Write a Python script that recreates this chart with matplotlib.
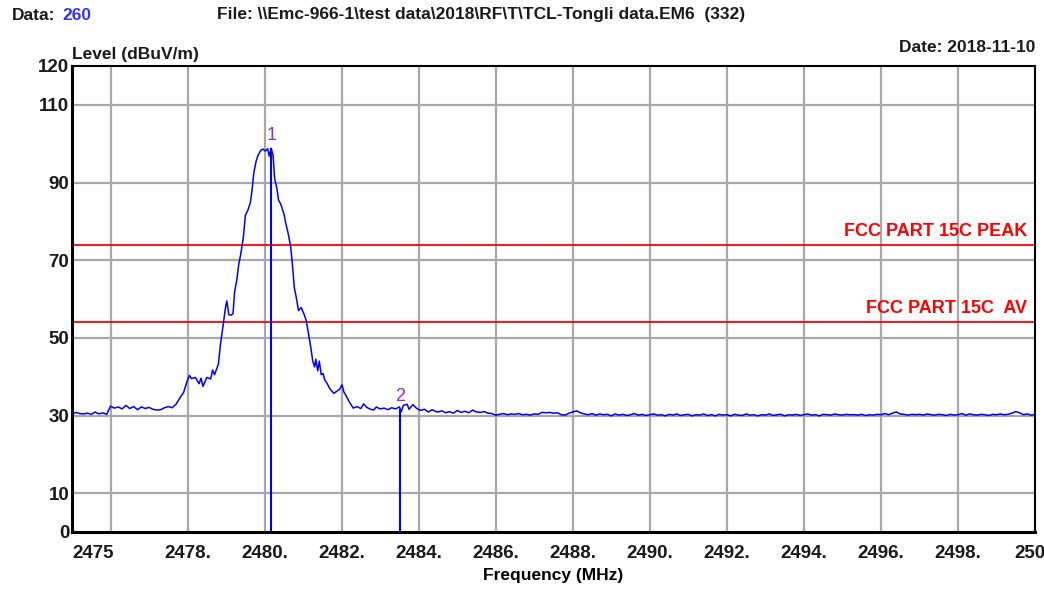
import matplotlib
matplotlib.use('Agg')
import matplotlib.pyplot as plt

plt.rcParams['font.family'] = ['Liberation Sans', 'DejaVu Sans']

# sweep trace
freq_mhz = [
    2475.0, 2475.1, 2475.2, 2475.3, 2475.4, 2475.5, 2475.6, 2475.7, 2475.8, 2475.9,
    2476.0, 2476.1, 2476.2, 2476.3, 2476.4, 2476.5, 2476.6, 2476.7, 2476.8, 2476.9,
    2477.0, 2477.1, 2477.2, 2477.3, 2477.4, 2477.5, 2477.6, 2477.7, 2477.8, 2477.9,
    2478.0, 2478.05, 2478.1, 2478.2, 2478.3, 2478.35, 2478.4, 2478.5, 2478.6, 2478.65,
    2478.7, 2478.8, 2478.85, 2478.93, 2478.98, 2479.02, 2479.07, 2479.12, 2479.18, 2479.22,
    2479.28, 2479.33, 2479.38, 2479.45, 2479.5, 2479.57, 2479.63, 2479.68, 2479.72, 2479.78,
    2479.83, 2479.9, 2479.96, 2480.02, 2480.08, 2480.12, 2480.17, 2480.22, 2480.26, 2480.32,
    2480.36, 2480.42, 2480.5, 2480.55, 2480.62, 2480.68, 2480.73, 2480.77, 2480.82, 2480.88,
    2480.95, 2481.02, 2481.08, 2481.14, 2481.2, 2481.25, 2481.3, 2481.33, 2481.38, 2481.42,
    2481.47, 2481.52, 2481.56, 2481.62, 2481.7, 2481.8, 2481.88, 2481.95, 2482.01, 2482.06,
    2482.12, 2482.2, 2482.3, 2482.4, 2482.5, 2482.57, 2482.65, 2482.75, 2482.83, 2482.9,
    2483.0, 2483.1, 2483.2, 2483.3, 2483.4, 2483.5, 2483.55, 2483.6, 2483.7, 2483.75,
    2483.85, 2483.95, 2484.05, 2484.15, 2484.25, 2484.35, 2484.45,
    2484.5, 2484.6, 2484.7, 2484.8, 2484.9, 2485.0, 2485.1, 2485.2, 2485.3, 2485.4,
    2485.5, 2485.6, 2485.7, 2485.8, 2485.9, 2486.0, 2486.1, 2486.2, 2486.3, 2486.4,
    2486.5, 2486.6, 2486.7, 2486.8, 2486.9, 2487.0, 2487.1, 2487.2, 2487.3, 2487.4,
    2487.5, 2487.6, 2487.7, 2487.8, 2487.9, 2488.0, 2488.1, 2488.2, 2488.3, 2488.4,
    2488.5, 2488.6, 2488.7, 2488.8, 2488.9, 2489.0, 2489.1, 2489.2, 2489.3, 2489.4,
    2489.5, 2489.6, 2489.7, 2489.8, 2489.9, 2490.0, 2490.1, 2490.2, 2490.3, 2490.4,
    2490.5, 2490.6, 2490.7, 2490.8, 2490.9, 2491.0, 2491.1, 2491.2, 2491.3, 2491.4,
    2491.5, 2491.6, 2491.7, 2491.8, 2491.9, 2492.0, 2492.1, 2492.2, 2492.3, 2492.4,
    2492.5, 2492.6, 2492.7, 2492.8, 2492.9, 2493.0, 2493.1, 2493.2, 2493.3, 2493.4,
    2493.5, 2493.6, 2493.7, 2493.8, 2493.9, 2494.0, 2494.1, 2494.2, 2494.3, 2494.4,
    2494.5, 2494.6, 2494.7, 2494.8, 2494.9, 2495.0, 2495.1, 2495.2, 2495.3, 2495.4,
    2495.5, 2495.6, 2495.7, 2495.8, 2495.9, 2496.0, 2496.1, 2496.2, 2496.3, 2496.4,
    2496.5, 2496.6, 2496.7, 2496.8, 2496.9, 2497.0, 2497.1, 2497.2, 2497.3, 2497.4,
    2497.5, 2497.6, 2497.7, 2497.8, 2497.9, 2498.0, 2498.1, 2498.2, 2498.3, 2498.4,
    2498.5, 2498.6, 2498.7, 2498.8, 2498.9, 2499.0, 2499.1, 2499.2, 2499.3, 2499.4,
    2499.5, 2499.6, 2499.7, 2499.8, 2499.9, 2500.0,
]
level_dbuv = [
    30.3, 30.8, 30.5, 30.4, 30.6, 30.3, 30.9, 30.4, 30.7, 30.3,
    32.4, 31.9, 32.2, 31.7, 32.6, 31.8, 32.3, 31.5, 32.2, 31.8,
    32.1, 31.6, 31.4, 31.5, 32.0, 32.3, 32.0, 32.9, 34.5, 36.0,
    39.2, 40.3, 39.5, 39.8, 38.2, 39.6, 37.5, 39.8, 39.4, 41.7,
    40.5, 43.2, 48.0, 53.7, 57.5, 59.5, 56.0, 55.8, 56.2, 61.8,
    65.0, 69.0, 71.5, 76.0, 81.5, 83.0, 84.8, 88.5, 92.5, 95.5,
    97.0, 98.3, 98.6, 98.1, 98.7, 96.8, 98.8, 97.0, 91.0, 88.5,
    85.5, 84.4, 82.0, 79.5, 76.5, 73.2, 68.0, 63.0, 60.5, 57.0,
    57.8, 56.2, 54.5, 51.0, 47.5, 44.0, 42.5, 44.5, 41.5, 44.0,
    40.5, 40.8, 39.2, 38.3, 36.8, 35.7, 36.3, 36.8, 37.9, 36.0,
    35.0, 33.5, 31.9, 32.3, 31.8, 33.0, 32.1, 31.6, 31.4, 32.2,
    31.7, 31.9, 31.5, 32.0, 31.7, 32.2, 31.0, 32.6, 32.9, 31.6,
    32.8, 31.8, 31.3, 31.6, 30.9, 31.5, 31.0,
    30.9, 31.2, 30.7, 31.0, 30.6, 31.3, 30.8, 31.1, 30.7, 31.4,
    30.9, 30.8, 31.0, 30.6, 30.5, 30.1, 30.3, 30.5, 30.2, 30.4,
    30.3, 30.5, 30.2, 30.3, 30.1, 30.4, 30.3, 30.8, 30.7, 30.8,
    30.6, 30.7, 30.2, 30.1, 30.6, 30.9, 31.2, 30.7, 30.4, 30.2,
    30.5, 30.1, 30.4, 30.2, 30.3, 29.9, 30.4, 30.1, 30.3, 30.0,
    30.2, 30.5, 30.1, 30.3, 30.0, 30.2, 30.4, 30.1, 30.2, 29.9,
    30.3, 30.1, 30.4, 30.0, 30.2, 30.3, 29.9, 30.2, 30.1, 30.4,
    30.0, 30.2, 29.9, 30.3, 30.1, 30.2, 29.9, 30.3, 30.1, 30.0,
    30.4, 30.1, 30.2, 29.9, 30.2, 30.1, 30.4, 30.0, 30.2, 30.3,
    29.9, 30.2, 30.1, 30.3, 30.0, 30.2, 30.4, 30.1, 30.2, 29.9,
    30.3, 30.2, 30.1, 30.4, 30.2, 30.1, 30.3, 30.2, 30.2, 30.1,
    30.3, 30.0, 30.2, 30.1, 30.3, 30.2, 30.5, 30.2, 30.6, 30.9,
    30.4, 30.3, 30.1, 30.3, 30.2, 30.3, 30.1, 30.4, 30.2, 30.1,
    30.3, 30.2, 30.0, 30.3, 30.1, 30.2, 30.5, 30.1, 30.4, 30.2,
    30.1, 30.3, 30.2, 30.0, 30.3, 30.2, 30.4, 30.2, 30.3, 30.6,
    31.0, 30.7, 30.2, 30.4, 30.1, 30.3,
]

marker_names = ['1', '2']
marker_freq = [2480.17, 2483.52]
marker_level = [98.8, 31.6]

limit_names = ['FCC PART 15C PEAK', 'FCC PART 15C  AV']
limit_levels = [74, 54]

xtick_vals = [2475, 2478, 2480, 2482, 2484, 2486, 2488, 2490, 2492, 2494, 2496, 2498, 2500]
xtick_text = ['2475', '2478.', '2480.', '2482.', '2484.', '2486.', '2488.', '2490.',
              '2492.', '2494.', '2496.', '2498.', '2500']
xgrid_vals = [2476, 2478, 2480, 2482, 2484, 2486, 2488, 2490, 2492, 2494, 2496, 2498]
ytick_vals = [0, 10, 30, 50, 70, 90, 110, 120]
ygrid_vals = [10, 30, 50, 70, 90, 110]

fig = plt.figure(figsize=(10.44, 5.9), dpi=100)
ax = fig.add_axes([72/1044, 1 - 532/590, (1035 - 72)/1044, (532 - 66)/590])

# grid drawn by hand, the tick positions don't line up with it
for gx in xgrid_vals:
    ax.axvline(gx, color='#a8a8a8', lw=1.6, zorder=1)
for gy in ygrid_vals:
    ax.axhline(gy, color='#a8a8a8', lw=1.6, zorder=1)

ax.plot(freq_mhz, level_dbuv, color='#0000ff', lw=1.1, zorder=3)

for lv, name in zip(limit_levels, limit_names):
    ax.axhline(lv, color='#ff0000', lw=1.3, zorder=2)
    ax.text(2499.8, lv + 1.3, name, color='#ff0000', fontsize=13, fontweight='bold',
            ha='right', va='bottom')

for name, f, lv in zip(marker_names, marker_freq, marker_level):
    ax.vlines(f, 0, lv, color='#0000ff', lw=1.5, zorder=4)
    ax.text(f, lv + 1.0, name, color='#8a2be2', fontsize=13, ha='center', va='bottom')

ax.set_xlim(2475, 2500)
ax.set_ylim(0, 120)
ax.set_xticks(xtick_vals)
ax.set_xticklabels(xtick_text)
ax.set_yticks(ytick_vals)
ax.tick_params(which='both', length=0)
ax.tick_params(axis='x', pad=9, labelsize=13.5)
ax.tick_params(axis='y', pad=2, labelsize=13.5)
for lab in ax.get_xticklabels() + ax.get_yticklabels():
    lab.set_fontweight('bold')
    lab.set_color('#1a1a1a')
ax.get_xticklabels()[0].set_ha('left')

for s in ['left', 'bottom']:
    ax.spines[s].set_linewidth(2.2)
for s in ['top', 'right']:
    ax.spines[s].set_linewidth(1.5)

ax.set_xlabel('Frequency (MHz)', fontsize=12.5, fontweight='bold', labelpad=5)

fig.text(12/1044, 1 - 15/590, 'Data:', fontsize=12.5, fontweight='bold', color='#1a1a1a',
         ha='left', va='center')
fig.text(62/1044, 1 - 15/590, '260', fontsize=12.5, fontweight='bold', color='#3333ff',
         ha='left', va='center')
fig.text(217/1044, 1 - 15/590,
         'File: \\\\Emc-966-1\\test data\\2018\\RF\\T\\TCL-Tongli data.EM6  (332)',
         fontsize=12.5, fontweight='bold', color='#1a1a1a', ha='left', va='center')
fig.text(1035/1044, 1 - 47/590, 'Date: 2018-11-10', fontsize=12.5, fontweight='bold',
         color='#1a1a1a', ha='right', va='center')
fig.text(72/1044, 1 - 55/590, 'Level (dBuV/m)', fontsize=12.5, fontweight='bold',
         color='#1a1a1a', ha='left', va='center')

fig.savefig('out.png', dpi=100)
